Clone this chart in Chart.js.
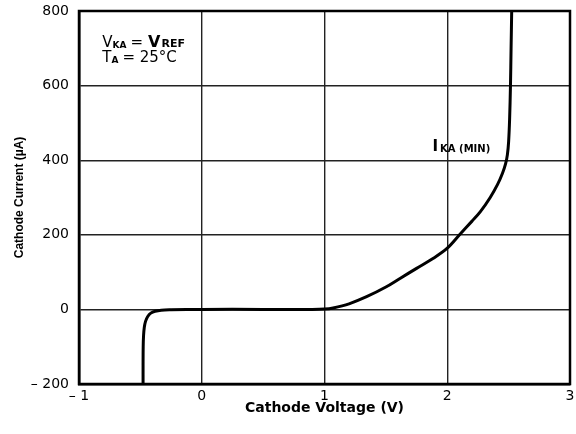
<!DOCTYPE html>
<html>
<head>
<meta charset="utf-8">
<script src="https://cdn.jsdelivr.net/npm/chart.js@4"></script>
<style>
  html, body { margin: 0; padding: 0; background: #fff; }
  #wrap { width: 576px; height: 434px; position: relative; }
</style>
</head>
<body>
<div id="wrap"><canvas id="c" width="576" height="434"></canvas></div>
<script>
// Cathode voltage (V) and cathode current (µA)
const cathodeVoltage = [-0.478, -0.478, -0.477, -0.474, -0.468, -0.458, -0.44, -0.415, -0.38, -0.33, -0.25, 0, 0.5, 0.9, 1.0, 1.07, 1.2, 1.343, 1.5, 1.615, 1.75, 1.887, 2.0, 2.1, 2.2, 2.27, 2.35, 2.41, 2.45, 2.475, 2.49, 2.50, 2.508, 2.515, 2.52, 2.525];
const cathodeCurrent = [-200, -150, -100, -70, -48, -32, -19, -10, -5, -2, -1, 0, 0, 0, 1, 4, 15, 34, 60, 83, 110, 137, 164, 200, 236, 262, 300, 335, 365, 390, 415, 450, 510, 600, 700, 800];

const xTickValues = [-1, 0, 1, 2, 3];
const xTickLabels = ['\u2013 1', '0', '1', '2', '3'];
const yTickValues = [-200, 0, 200, 400, 600, 800];
const yTickLabels = ['\u2013 200', '0', '200', '400', '600', '800'];

const xTitle = 'Cathode Voltage (V)';
const yTitle = 'Cathode Current (\u00b5A)';

const points = cathodeVoltage.map((v, i) => ({ x: v, y: cathodeCurrent[i] }));

const annotations = {
  id: 'annotations',
  afterDraw(chart) {
    const ctx = chart.ctx;
    const xs = chart.scales.x, ys = chart.scales.y;
    ctx.save();
    ctx.fillStyle = '#000';
    ctx.textBaseline = 'alphabetic';
    ctx.textAlign = 'left';
    function run(parts, x, y) {
      let cx = x;
      for (const p of parts) {
        ctx.font = p.font;
        ctx.fillText(p.t, cx, y + (p.dy || 0));
        cx += ctx.measureText(p.t).width + (p.gap || 0);
      }
    }
    const fam = '"DejaVu Sans", sans-serif';
    const big = '15px ' + fam;
    const bigB = 'bold 16px ' + fam;
    const sub = 'bold 9px ' + fam;
    // V_KA = V_REF
    run([
      { t: 'V', font: big },
      { t: 'KA', font: sub, dy: 1, gap: 4 },
      { t: '=', font: big, gap: 5 },
      { t: 'V', font: bigB, gap: 1 },
      { t: 'REF', font: 'bold 11px ' + fam }
    ], xs.getPixelForValue(-0.81), ys.getPixelForValue(703));
    // T_A = 25°C
    run([
      { t: 'T', font: big },
      { t: 'A', font: sub, dy: 1, gap: 4 },
      { t: '= 25\u00b0C', font: big }
    ], xs.getPixelForValue(-0.81), ys.getPixelForValue(663));
    // I_KA (MIN)
    run([
      { t: 'I', font: 'bold 15px ' + fam, gap: 2 },
      { t: 'KA (MIN)', font: 'bold 10px ' + fam, dy: 1 }
    ], xs.getPixelForValue(1.88), ys.getPixelForValue(425));
    ctx.restore();
  }
};

new Chart(document.getElementById('c'), {
  type: 'scatter',
  data: {
    datasets: [{
      data: points,
      showLine: true,
      borderColor: '#000',
      borderWidth: 3,
      pointRadius: 0,
      tension: 0.35,
      fill: false
    }]
  },
  options: {
    responsive: false,
    animation: false,
    devicePixelRatio: 1,
    layout: { padding: { left: 0, right: 6, top: 11, bottom: 0 } },
    plugins: { legend: { display: false }, tooltip: { enabled: false } },
    scales: {
      x: {
        type: 'linear',
        min: -1, max: 3,
        afterBuildTicks(scale) { scale.ticks = xTickValues.map(v => ({ value: v })); },
        afterFit(scale) { scale.height = 50; scale.paddingLeft = 0; scale.paddingRight = 0; },
        ticks: {
          color: '#000',
          padding: 4,
          maxRotation: 0,
          font: { family: '"DejaVu Sans", sans-serif', size: 14 },
          callback(value) { const i = xTickValues.indexOf(value); return i >= 0 ? xTickLabels[i] : ''; }
        },
        grid: { color: '#222', lineWidth: 1.4, drawTicks: false },
        border: { color: '#000', width: 2.5 },
        title: {
          display: true, text: xTitle, color: '#000',
          font: { family: '"DejaVu Sans", sans-serif', size: 14, weight: 'bold' },
          padding: { top: 0, bottom: 17 }
        }
      },
      y: {
        type: 'linear',
        min: -200, max: 800,
        afterBuildTicks(scale) { scale.ticks = yTickValues.map(v => ({ value: v })); },
        afterFit(scale) { scale.width = 79; scale.paddingTop = 0; scale.paddingBottom = 0; },
        ticks: {
          color: '#000',
          padding: 10,
          font: { family: '"DejaVu Sans", sans-serif', size: 14 },
          callback(value) { const i = yTickValues.indexOf(value); return i >= 0 ? yTickLabels[i] : ''; }
        },
        grid: { color: '#222', lineWidth: 1.4, drawTicks: false },
        border: { color: '#000', width: 2.5 },
        title: {
          display: true, text: yTitle, color: '#000',
          font: { family: '"Liberation Sans", Arial, sans-serif', size: 12, weight: 'bold' },
          padding: { top: 12, bottom: 0 }
        }
      }
    }
  },
  plugins: [annotations, {
    id: 'frame',
    afterDraw(chart) {
      const { left, right, top, bottom } = chart.chartArea;
      const ctx = chart.ctx;
      ctx.save();
      ctx.strokeStyle = '#000';
      ctx.lineWidth = 2.5;
      ctx.strokeRect(left, top, right - left, bottom - top);
      ctx.restore();
    }
  }]
});
</script>
</body>
</html>
